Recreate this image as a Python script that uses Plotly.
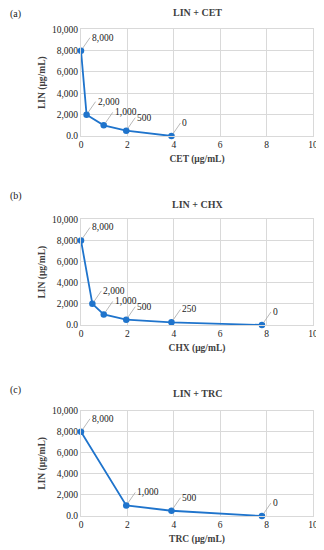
import plotly.graph_objects as go

# Panel data
titles = ["LIN + CET", "LIN + CHX", "LIN + TRC"]
panel_tags = ["(a)", "(b)", "(c)"]
x_titles = ["CET (μg/mL)", "CHX (μg/mL)", "TRC (μg/mL)"]
cet_x = [0, 0.24, 0.98, 1.95, 3.9]
cet_y = [8000, 2000, 1000, 500, 0]
chx_x = [0, 0.49, 0.98, 1.95, 3.9, 7.8]
chx_y = [8000, 2000, 1000, 500, 250, 0]
trc_x = [0, 1.95, 3.9, 7.8]
trc_y = [8000, 1000, 500, 0]
y_tickvals = [0, 2000, 4000, 6000, 8000, 10000]
y_ticktext = ["0.0", "2,000", "4,000", "6,000", "8,000", "10,000"]
x_tickvals = [0, 2, 4, 6, 8, 10]

series = [(cet_x, cet_y), (chx_x, chx_y), (trc_x, trc_y)]

# page body has an 8px margin: draw in a 316x542 figure, coordinates shifted by 8
OFF = 8
H = 550 - OFF
W = 324 - OFF
plot_px = [(29.3, 136.0), (219.3, 325.0), (410.7, 516.0)]
title_px = [12, 204, 393]
tag_px = [14, 196, 390]
X0, X1 = 81, 313

FONT = "Liberation Serif"
BLUE = "#1f74cc"
GRID = "#d9d9d9"


def px_x(p):
    return max(0.0, (p - OFF) / W)


def px_y(p):
    return 1 - (p - OFF) / H


fig = go.Figure()
layout = dict(
    width=W, height=H, margin=dict(l=0, r=0, t=0, b=0),
    plot_bgcolor="white", paper_bgcolor="white", showlegend=False,
    font=dict(family=FONT, size=9, color="#404040"),
)
annotations = []
for i, ((xs, ys), (top, bot)) in enumerate(zip(series, plot_px)):
    n = "" if i == 0 else str(i + 1)
    xa, ya = "x" + n, "y" + n
    fig.add_trace(go.Scatter(
        x=xs, y=ys, mode="lines+markers", xaxis=xa, yaxis=ya,
        line=dict(color=BLUE, width=1.8),
        marker=dict(color=BLUE, size=6.5), cliponaxis=False,
    ))
    layout["xaxis" + n] = dict(
        domain=[px_x(X0), px_x(X1)], range=[0, 10], anchor=ya, automargin=False,
        tickvals=x_tickvals, showgrid=True, gridcolor=GRID, gridwidth=1,
        showline=True, linecolor=GRID, mirror=True, zeroline=False,
        ticks="", tickfont=dict(family=FONT, size=9.5, color="#222222"),
        title=dict(text="<b>" + x_titles[i] + "</b>",
                   font=dict(family=FONT, size=9.5, color="#404040"), standoff=5),
    )
    layout["yaxis" + n] = dict(
        domain=[px_y(bot), px_y(top)], range=[0, 10000], anchor=xa,
        automargin=False,
        tickvals=y_tickvals, ticktext=y_ticktext, showgrid=True,
        gridcolor=GRID, gridwidth=1, showline=True, linecolor=GRID,
        mirror=True, zeroline=False, ticks="",
        tickfont=dict(family=FONT, size=9.5, color="#222222"),
        title=dict(text="<b>LIN (μg/mL)</b>",
                   font=dict(family=FONT, size=9.5, color="#404040"), standoff=4),
    )
    for xv, yv in zip(xs, ys):
        annotations.append(dict(
            x=xv, y=yv, xref=xa, yref=ya, text=f"{yv:,}",
            showarrow=True, arrowhead=0, arrowwidth=0.8, arrowcolor="#a6a6a6",
            ax=9, ay=-13, xanchor="left", yanchor="middle", standoff=3,
            font=dict(family=FONT, size=9.5, color="#222222"),
        ))
    annotations.append(dict(
        x=px_x(197), y=px_y(title_px[i]), xref="paper", yref="paper",
        text="<b>" + titles[i] + "</b>", showarrow=False,
        xanchor="center", yanchor="middle",
        font=dict(family=FONT, size=10, color="#404040"),
    ))
    annotations.append(dict(
        x=0, y=px_y(tag_px[i]), xref="paper", yref="paper",
        text=panel_tags[i], showarrow=False, xanchor="left", yanchor="middle",
        font=dict(family=FONT, size=10, color="#222222"),
    ))

layout["annotations"] = annotations
fig.update_layout(**layout)
fig.write_html("out.html")
